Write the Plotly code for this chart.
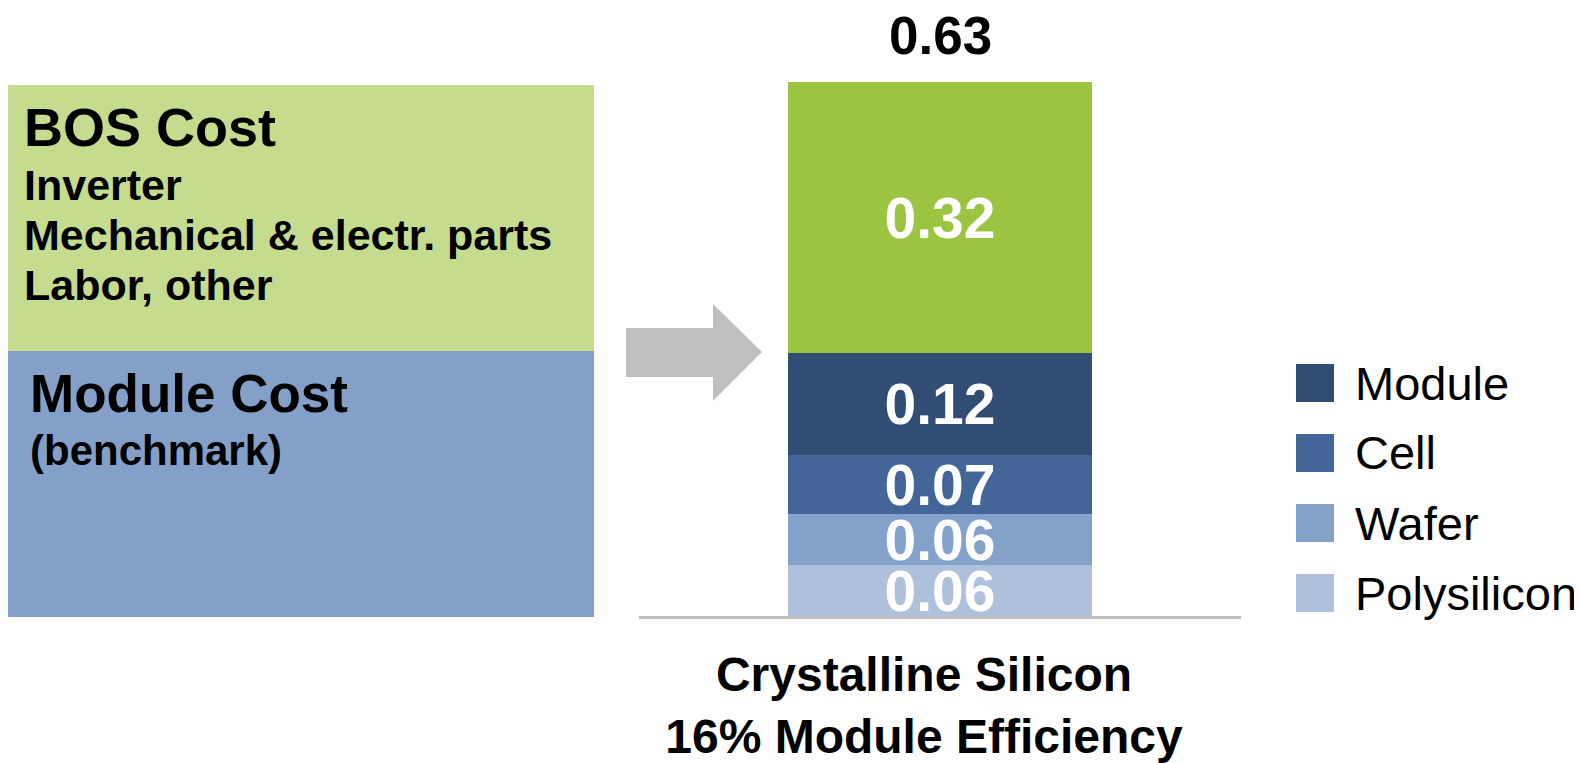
import plotly.graph_objects as go

# ---------------- data ----------------
category = "Crystalline Silicon<br>16% Module Efficiency"
series_names = ["Polysilicon", "Wafer", "Cell", "Module", "BOS"]
series_values = [0.06, 0.06, 0.07, 0.12, 0.32]
series_colors = ["#aec0dc", "#84a1c9", "#436598", "#314d74", "#9bc440"]
legend_names = ["Module", "Cell", "Wafer", "Polysilicon"]

bos_lines = ["Inverter", "Mechanical &amp; electr. parts", "Labor, other"]

# ---------------- layout constants ----------------
W, H = 1582, 763
OFF = 8                # browser default body margin
FONT = "Liberation Sans, Arial, sans-serif"
BASE_PX = 616          # page pixel row of bar baseline
TOP_PX = 82            # page pixel row of total top
total = round(sum(series_values), 2)
px_per_unit = (BASE_PX - TOP_PX) / total


def px(x):
    return (x - OFF) / W


def py(y):
    return 1 - (y - OFF) / H


fig = go.Figure()
for name, val, col in zip(series_names, series_values, series_colors):
    fig.add_trace(go.Bar(
        x=[category], y=[val], name=name,
        marker=dict(color=col, line=dict(width=0)),
        text=[f"{val:.2f}"], textposition="inside", insidetextanchor="middle",
        constraintext="none",
        textfont=dict(color="white", size=57, family=FONT, weight="bold"),
        showlegend=False, hoverinfo="skip",
    ))

# total label
fig.add_annotation(x=category, y=total, xref="x", yref="y", text=f"{total:.2f}",
                   showarrow=False, yanchor="bottom", yshift=15,
                   font=dict(size=53, color="black", family=FONT, weight="bold"))

shapes = []
# left boxes
shapes.append(dict(type="rect", xref="paper", yref="paper", x0=px(8), x1=px(594),
                   y0=py(351), y1=py(85), fillcolor="#c5dc8f", line=dict(width=0), layer="below"))
shapes.append(dict(type="rect", xref="paper", yref="paper", x0=px(8), x1=px(594),
                   y0=py(617), y1=py(351), fillcolor="#84a0c9", line=dict(width=0), layer="below"))
# arrow
pts = [(626, 328), (713, 328), (713, 304), (762, 352), (713, 401), (713, 377), (626, 377)]
path = "M " + " L ".join(f"{px(x):.5f},{py(y):.5f}" for x, y in pts) + " Z"
shapes.append(dict(type="path", xref="paper", yref="paper", path=path,
                   fillcolor="#bfbfbf", line=dict(width=0)))

annotations = []
annotations.append(dict(x=px(22), y=py(127), xref="paper", yref="paper", text="<b>BOS Cost</b>",
                        showarrow=False, xanchor="left", yanchor="middle",
                        font=dict(size=54, color="black", family=FONT)))
for i, t in enumerate(bos_lines):
    annotations.append(dict(x=px(22), y=py(185 + 50 * i), xref="paper", yref="paper",
                            text=f"<b>{t}</b>", showarrow=False, xanchor="left", yanchor="middle",
                            font=dict(size=43, color="black", family=FONT)))
annotations.append(dict(x=px(28), y=py(393), xref="paper", yref="paper", text="<b>Module Cost</b>",
                        showarrow=False, xanchor="left", yanchor="middle",
                        font=dict(size=53, color="black", family=FONT)))
annotations.append(dict(x=px(28), y=py(450), xref="paper", yref="paper", text="<b>(benchmark)</b>",
                        showarrow=False, xanchor="left", yanchor="middle",
                        font=dict(size=42, color="black", family=FONT)))

# manual legend (large square swatches)
for i, name in enumerate(legend_names):
    col = series_colors[series_names.index(name)]
    cy = 383 + 70 * i
    shapes.append(dict(type="rect", xref="paper", yref="paper", x0=px(1296), x1=px(1334),
                       y0=py(cy + 19), y1=py(cy - 19), fillcolor=col, line=dict(width=0)))
    annotations.append(dict(x=px(1353), y=py(cy), xref="paper", yref="paper", text=name,
                            showarrow=False, xanchor="left", yanchor="middle",
                            font=dict(size=47, color="black", family=FONT)))

fig.update_layout(
    width=W, height=H, autosize=False,
    margin=dict(l=0, r=0, t=0, b=0, pad=0),
    paper_bgcolor="white", plot_bgcolor="white",
    barmode="stack", bargap=0.495,
    shapes=shapes, annotations=fig.layout.annotations + tuple(annotations),
    xaxis=dict(domain=[px(639), px(1241)], range=[-0.5, 0.5], type="category",
               showline=True, linecolor="#bfbfbf", linewidth=3, showgrid=False,
               zeroline=False, ticks="", ticklabelstandoff=14, ticklabelshift=-16,
               tickfont=dict(size=48, color="black", family=FONT, weight="bold")),
    yaxis=dict(domain=[py(BASE_PX), 1], range=[0, (BASE_PX - OFF) / px_per_unit],
               visible=False, showgrid=False, zeroline=False),
    showlegend=False,
)

fig.write_html("out.html")
